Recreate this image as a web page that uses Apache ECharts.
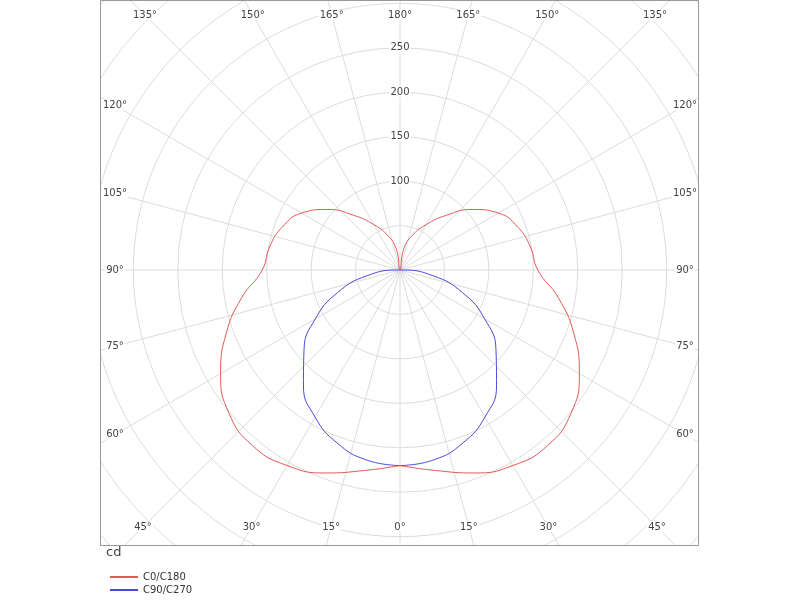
<!DOCTYPE html>
<html>
<head>
<meta charset="utf-8">
<script src="https://cdn.jsdelivr.net/npm/echarts@6/dist/echarts.min.js"></script>
<style>html,body{margin:0;padding:0;background:#fff}#main{width:800px;height:600px}</style>
</head>
<body>
<div id="main"></div>
<script>
var chartDom = document.getElementById('main');
var myChart = echarts.init(chartDom);

// gamma angles (deg) and intensities (cd)
var redAngles = [0, 10, 20, 30, 40, 50, 60, 70, 80, 90, 100, 110, 120, 130, 140, 150, 160, 170, 180];
var redValues = [220, 229, 243, 254, 258, 251, 233, 208, 181, 155, 149, 141, 128, 106, 80, 59, 42, 24, 0];
var blueAngles = [0, 10, 20, 30, 40, 50, 60, 70, 80, 90];
var blueValues = [220, 217, 207, 191, 169, 141, 110, 75, 38, 0];
var radiusTicks = [100, 150, 200, 250];
var angleTicks = [0, 15, 30, 45, 60, 75, 90, 105, 120, 135, 150, 165, 180];

function mirror(angles, values) {
  var out = [];
  for (var i = 0; i < angles.length; i++) out.push([values[i], angles[i]]);
  for (var j = angles.length - 1; j >= 0; j--) out.push([values[j], 360 - angles[j]]);
  return out;
}

var box = { x0: 100, y0: 0, x1: 698, y1: 545 };
var font = 'DejaVu Sans, sans-serif';

var option = {
  animation: false,
  polar: { center: [400, 270], radius: 400 },
  angleAxis: {
    type: 'value', min: 0, max: 360, interval: 15, startAngle: 270, clockwise: false,
    axisLine: { show: false }, axisTick: { show: false }, axisLabel: { show: false },
    splitLine: { lineStyle: { color: '#dcdcdc', width: 1 } }
  },
  radiusAxis: {
    type: 'value', min: 0, max: 450, interval: 50,
    axisLine: { show: false }, axisTick: { show: false }, axisLabel: { show: false },
    splitLine: { show: true, lineStyle: { color: '#dcdcdc', width: 1 } }
  },
  legend: {
    z: 300, orient: 'vertical', left: 105, top: 567, itemWidth: 28, itemHeight: 2, itemGap: 3,
    textStyle: { fontSize: 10, fontFamily: font, color: '#333' },
    data: [{ name: 'C0/C180', icon: 'rect' }, { name: 'C90/C270', icon: 'rect' }]
  },
  series: [
    { name: 'C0/C180', type: 'line', coordinateSystem: 'polar', showSymbol: false, smooth: true,
      lineStyle: { color: '#e05a5a', width: 1 }, itemStyle: { color: '#e05a5a' },
      data: mirror(redAngles, redValues) },
    { name: 'C90/C270', type: 'line', coordinateSystem: 'polar', showSymbol: false, smooth: true,
      lineStyle: { color: '#4a4ad8', width: 1 }, itemStyle: { color: '#4a4ad8' },
      data: mirror(blueAngles, blueValues) }
  ]
};
myChart.setOption(option);

// masks around the plot box, border, and labels
var g = [
  { type: 'rect', z: 100, shape: { x: 0, y: 0, width: box.x0, height: 600 }, style: { fill: '#fff' } },
  { type: 'rect', z: 100, shape: { x: box.x1, y: 0, width: 800 - box.x1, height: 600 }, style: { fill: '#fff' } },
  { type: 'rect', z: 100, shape: { x: 0, y: box.y1, width: 800, height: 600 - box.y1 }, style: { fill: '#fff' } },
  { type: 'rect', z: 101, shape: { x: box.x0 + 0.5, y: box.y0 + 0.5, width: box.x1 - box.x0, height: box.y1 - box.y0 },
    style: { fill: 'none', stroke: '#999', lineWidth: 1 } },
  { type: 'text', z: 102, left: 106, top: 546, style: { text: 'cd', fontSize: 13, fontFamily: font, fill: '#444' } }
];

var c = myChart.convertToPixel({ polarIndex: 0 }, [0, 0]);
var inner = { x0: 115, y0: 15, x1: 685, y1: 527 };
function edgePoint(ang) {
  var p = myChart.convertToPixel({ polarIndex: 0 }, [100, ang]);
  var dx = p[0] - c[0], dy = p[1] - c[1];
  var ts = [];
  if (dx > 1e-6) ts.push((inner.x1 - c[0]) / dx);
  if (dx < -1e-6) ts.push((inner.x0 - c[0]) / dx);
  if (dy > 1e-6) ts.push((inner.y1 - c[1]) / dy);
  if (dy < -1e-6) ts.push((inner.y0 - c[1]) / dy);
  var t = Math.min.apply(null, ts);
  return [c[0] + dx * t, c[1] + dy * t];
}
var labelAngles = [];
angleTicks.forEach(function (a) { labelAngles.push([a, a]); if (a > 0 && a < 180) labelAngles.push([360 - a, a]); });
labelAngles.forEach(function (pair) {
  var p = edgePoint(pair[0]);
  g.push({ type: 'text', z: 102, x: p[0], y: p[1],
    style: { text: pair[1] + '°', fontSize: 10, fontFamily: font, fill: '#444', align: 'center', verticalAlign: 'middle',
      backgroundColor: '#fff', padding: [0, 1] } });
});
radiusTicks.forEach(function (r) {
  var p = myChart.convertToPixel({ polarIndex: 0 }, [r, 180]);
  g.push({ type: 'text', z: 102, x: p[0], y: p[1],
    style: { text: String(r), fontSize: 10, fontFamily: font, fill: '#444', align: 'center', verticalAlign: 'middle',
      backgroundColor: '#fff', padding: [0, 1] } });
});
myChart.setOption({ graphic: g });
</script>
</body>
</html>
